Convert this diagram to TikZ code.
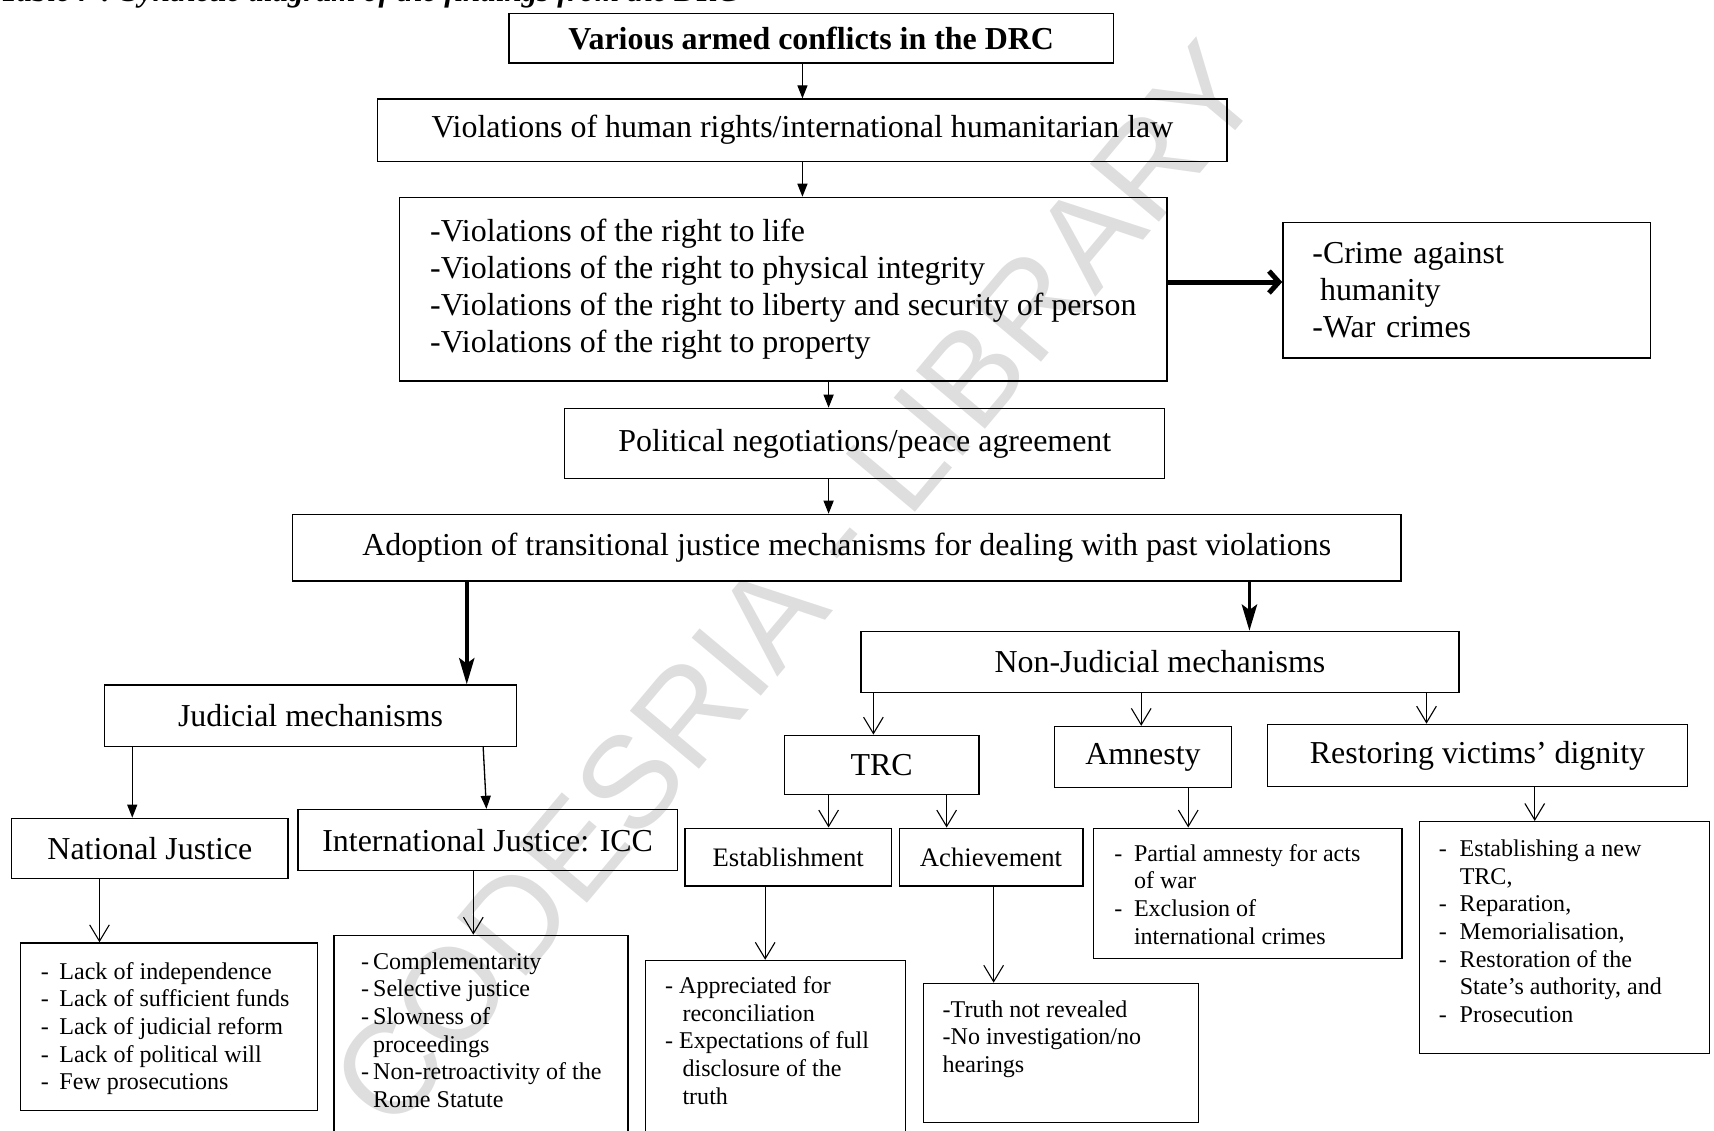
\documentclass[tikz,border=0pt]{standalone}
\usepackage{fontspec}
\setmainfont{Liberation Serif}
\newfontfamily\wmfont{Liberation Sans}
\usetikzlibrary{arrows.meta}
\newcommand\fMain{\fontsize{14.6}{17}\selectfont}
\newcommand\fSmall{\fontsize{11}{12.65}\selectfont}
\newcommand\fMid{\fontsize{12.2}{14}\selectfont}
\newcommand\dsh[1]{\makebox[#1][l]{-}}
\definecolor{wmgray}{gray}{0.87}
\begin{document}
\begin{tikzpicture}[x=0.5pt,y=-0.5pt,
  bx/.style={draw, line width=0.6pt, anchor=north west, inner sep=0pt, font=\fMain, align=center},
  tx/.style={anchor=north west, inner sep=0pt, align=left, font=\fSmall},
  thinarr/.style={line width=0.6pt, -{Triangle[length=6pt,width=4.6pt]}},
  openarr/.style={line width=0.5pt, -{Straight Barb[length=7.5pt,width=9pt]}},
  thickarr/.style={line width=1.6pt, -{Stealth[length=12pt,width=7pt,inset=2.5pt]}},
  fatarr/.style={line width=2.3pt, -{Straight Barb[length=4.5pt,width=10pt]}}]
\useasboundingbox (0,0) rectangle (1568,1034);
\clip (0,0) rectangle (1568,1034);

% watermark
\node[rotate=50, font=\fontsize{60}{61}\selectfont\wmfont, text=wmgray, inner sep=0pt] (wm) at (728,535) {CODESRIA - LIBRARY};

% caption (cut off at top)
\node[anchor=base west, inner sep=0pt, font=\fontsize{14.2}{16}\selectfont\bfseries\itshape] (cap) at (0,1.5) {Table 7 : Synthetic diagram of the findings from the DRC};

% boxes
\node[bx, font=\fMain\bfseries, minimum width=276.5pt, minimum height=22.5pt] (A) at (465,12) {Various armed conflicts in the DRC};
\node[bx, minimum width=388.5pt, minimum height=28.5pt] (B) at (345,90) {Violations of human rights/international humanitarian law};
\node[bx, align=left, minimum width=351pt, minimum height=84pt] (C) at (365,180)
  {-Violations of the right to life\\-Violations of the right to physical integrity\\-Violations of the right to liberty and security of person\\-Violations of the right to property};
\node[bx, align=left, text width=141pt, inner xsep=13.5pt, minimum height=62pt] (D) at (1173,203)
  {-Crime against\\\hspace*{3.5pt}humanity\\-War crimes};
\node[bx, minimum width=274.5pt, minimum height=32pt] (E) at (516,373) {Political negotiations/peace agreement};
\node[bx, minimum width=507pt, minimum height=30.5pt] (F) at (267,470) {Adoption of transitional justice mechanisms for dealing with past violations};
\node[bx, minimum width=188.5pt, minimum height=28pt] (G) at (95,626) {Judicial mechanisms};
\node[bx, minimum width=273.5pt, minimum height=28pt] (H) at (787,577) {Non-Judicial mechanisms};
\node[bx, minimum width=126.5pt, minimum height=27.5pt] (I) at (10,748) {National Justice};
\node[bx, minimum width=173.5pt, minimum height=28pt] (J) at (272,740) {International Justice: ICC};
\node[bx, minimum width=136pt, minimum height=76.5pt] (K) at (18,862) {};
\node[bx, minimum width=134.5pt, minimum height=95pt] (L) at (305,855) {};
\node[bx, minimum width=89pt, minimum height=27pt] (M) at (717,672) {TRC};
\node[bx, minimum width=81pt, minimum height=28pt] (N) at (964,664) {Amnesty};
\node[bx, minimum width=192pt, minimum height=28.5pt] (O) at (1159,662) {Restoring victims’ dignity};
\node[bx, font=\fMid, minimum width=94.5pt, minimum height=26.5pt] (P) at (626,757) {Establishment};
\node[bx, font=\fMid, minimum width=84pt, minimum height=26.5pt] (Q) at (822,757) {Achievement};
\node[bx, minimum width=141pt, minimum height=59.5pt] (R) at (1000,757) {};
\node[bx, minimum width=132.5pt, minimum height=106pt] (S) at (1298,751) {};
\node[bx, minimum width=119pt, minimum height=85pt] (T) at (590,878) {};
\node[bx, minimum width=126pt, minimum height=63.5pt] (U) at (844,899) {};

% list texts
\node[tx] (Kt) at (37,880) {\dsh{8.5pt}Lack of independence\\\dsh{8.5pt}Lack of sufficient funds\\\dsh{8.5pt}Lack of judicial reform\\\dsh{8.5pt}Lack of political will\\\dsh{8.5pt}Few prosecutions};
\node[tx] (Lt) at (330,871) {\dsh{5.5pt}Complementarity\\\dsh{5.5pt}Selective justice\\\dsh{5.5pt}Slowness of\\\hspace*{5.5pt}proceedings\\\dsh{5.5pt}Non-retroactivity of the\\\hspace*{5.5pt}Rome Statute};
\node[tx] (Tt) at (608,893) {\dsh{6.5pt}Appreciated for\\\hspace*{8pt}reconciliation\\\dsh{6.5pt}Expectations of full\\\hspace*{8pt}disclosure of the\\\hspace*{8pt}truth};
\node[tx] (Ut) at (862,915) {-Truth not revealed\\-No investigation/no\\hearings};
\node[tx] (Rt) at (1019,772) {\dsh{9pt}Partial amnesty for acts\\\hspace*{9pt}of war\\\dsh{9pt}Exclusion of\\\hspace*{9pt}international crimes};
\node[tx] (St) at (1316,768) {\dsh{9.5pt}Establishing a new\\\hspace*{9.5pt}TRC,\\\dsh{9.5pt}Reparation,\\\dsh{9.5pt}Memorialisation,\\\dsh{9.5pt}Restoration of the\\\hspace*{9.5pt}State’s authority, and\\\dsh{9.5pt}Prosecution};

% helper coordinates
\coordinate (x758) at (758,0);
\coordinate (x427) at (427,0);
\coordinate (x1143) at (1143,0);
\coordinate (x121) at (121,0);
\coordinate (x442) at (442,0);
\coordinate (x445) at (445,0);
\coordinate (x91) at (91,0);
\coordinate (x433) at (433,0);
\coordinate (x799) at (799,0);
\coordinate (x1044) at (1044,0);
\coordinate (x1305) at (1305,0);
\coordinate (x866) at (866,0);
\coordinate (x1087) at (1087,0);
\coordinate (x1404) at (1404,0);
\coordinate (x700) at (700,0);
\coordinate (x909) at (909,0);
\coordinate (y258) at (0,258);

% connectors
\draw[thinarr] (A.south -| B.north) -- (B.north);
\draw[thinarr] (B.south) -- (B.south |- C.north);
\draw[fatarr] (C.east |- y258) -- (D.west |- y258);
\draw[thinarr] (C.south -| x758) -- (E.north -| x758);
\draw[thinarr] (E.south -| x758) -- (F.north -| x758);
\draw[thickarr] (F.south -| x427) -- (G.north -| x427);
\draw[thickarr] (F.south -| x1143) -- (H.north -| x1143);
\draw[thinarr] (G.south -| x121) -- (I.north -| x121);
\draw[thinarr] (G.south -| x442) -- (J.north -| x445);
\draw[openarr] (I.south -| x91) -- (K.north -| x91);
\draw[openarr] (J.south -| x433) -- (L.north -| x433);
\draw[openarr] (H.south -| x799) -- (M.north -| x799);
\draw[openarr] (H.south -| x1044) -- (N.north -| x1044);
\draw[openarr] (H.south -| x1305) -- (O.north -| x1305);
\draw[openarr] (M.south -| x758) -- (P.north -| x758);
\draw[openarr] (M.south -| x866) -- (Q.north -| x866);
\draw[openarr] (N.south -| x1087) -- (R.north -| x1087);
\draw[openarr] (O.south -| x1404) -- (S.north -| x1404);
\draw[openarr] (P.south -| x700) -- (T.north -| x700);
\draw[openarr] (Q.south -| x909) -- (U.north -| x909);
\end{tikzpicture}
\end{document}
